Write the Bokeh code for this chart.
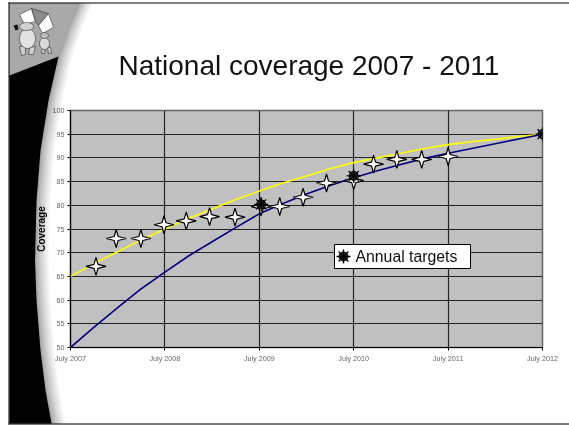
import numpy as np
from bokeh.core.properties import value
from bokeh.embed import file_html
from bokeh.models import FixedTicker, Range1d
from bokeh.plotting import figure
from bokeh.resources import INLINE

# Years since July 2007
curve_years = [0, .25, .5, .75, 1, 1.25, 1.5, 1.75, 2, 2.25, 2.5, 2.75, 3, 3.25, 3.5, 3.75, 4, 4.25, 4.5, 4.75, 5]
yellow_values = [65, 67.7, 70.2, 72.7, 75, 77.2, 79.2, 81.2, 83, 84.7, 86.2, 87.7, 89, 90, 91, 92, 92.8, 93.4, 93.9, 94.5, 95]
blue_values = [50, 54.3, 58.4, 62.4, 65.9, 69.3, 72.3, 75.3, 78.2, 80.4, 82.4, 84.2, 85.8, 87.3, 88.6, 89.9, 91, 92, 93, 94, 95]

survey_years = [.27, .484, .746, .99, 1.226, 1.473, 1.743, 2.019, 2.216, 2.464, 2.712, 3.0, 3.21, 3.457, 3.72, 4.0]
survey_values = [67.1, 73, 73, 75.9, 76.7, 77.6, 77.5, 79.7, 79.75, 81.7, 84.7, 85.2, 88.7, 89.7, 89.7, 90.3]

target_years = [2.02, 3.0, 5.0]
target_values = [80.2, 86.2, 95]

tick_years = [0, 1, 2, 3, 4, 5]
tick_labels = ["July 2007", "July 2008", "July 2009", "July 2010", "July 2011", "July 2012"]
y_ticks = list(range(50, 101, 5))

FONT = "Liberation Sans"
LEFT, RIGHT, TOP, BOTTOM = 70, 542, 110, 347

# Slide backdrop: a full-window figure measured in pixels from the top-left corner
bg = figure(width=569, height=426, output_backend="svg", toolbar_location=None,
            x_range=Range1d(0, 569), y_range=Range1d(426, 0),
            min_border=0, x_axis_type=None, y_axis_type=None,
            background_fill_color="#ffffff", border_fill_color="#ffffff",
            outline_line_color=None)
bg.grid.visible = False

def shape(xs, ys, fill, line=None, width=0):
    bg.patch([float(v) for v in xs], [float(v) for v in ys], fill_color=fill,
             line_color=line, line_width=width)

edge_y = [3, 30, 56, 100, 150, 200, 260, 300, 350, 390, 423]
edge_x = [78, 67, 58, 48, 40, 36, 34.5, 36, 40, 45, 51]

# Soft edge beside the curved sidebar, painted from the outside inward
for off in range(15, -1, -1):
    t = off / 15
    level = int(150 + 105 * t ** 0.7)
    shape([9] + [x + off for x in edge_x] + [9], [3] + edge_y + [423],
          "#%02x%02x%02x" % (level, level, level))

shape([9] + edge_x[:3] + [9], [3] + edge_y[:3] + [75], "#a9a9a9")
shape([9] + edge_x[2:] + [9], [75] + edge_y[2:] + [423], "#000000")
shape([8, 569, 569, 8], [2, 2, 3, 3], "#000000")
shape([8, 569, 569, 8], [423, 423, 424, 424], "#000000")
shape([8, 9, 9, 8], [2, 2, 424, 424], "#000000")

# Mascot holding kites: canopies, then limbs, then bodies and heads
shape([19, 31, 35, 24], [14, 8, 21, 24], "#ffffff", "#333333", 0.6)
shape([31, 48, 38, 35], [8, 13, 25, 21], "#8c8c8c", "#333333", 0.6)
shape([38, 48, 53, 42], [25, 13, 27, 33], "#ffffff", "#333333", 0.6)
shape([19, 25, 25, 21], [46, 46, 54, 55], "#cfcfcf", "#333333", 0.6)
shape([29, 35, 33, 28], [47, 46, 54, 54], "#cfcfcf", "#333333", 0.6)
shape([42, 45, 44, 41], [47, 47, 53, 53], "#cfcfcf", "#333333", 0.6)
shape([47, 50, 51, 48], [47, 47, 53, 53], "#cfcfcf", "#333333", 0.6)
theta = np.linspace(0, 2 * np.pi, 24)
for cx, cy, rx, ry, col in [(27, 38, 8, 10, "#e2e2e2"), (26, 26, 7, 4, "#d2d2d2"),
                            (44, 43, 5, 6, "#d8d8d8"), (44, 35, 4, 3, "#bdbdbd")]:
    shape(cx + rx * np.cos(theta), cy + ry * np.sin(theta), col, "#333333", 0.6)
shape([13, 17, 18, 15], [25, 24, 29, 30], "#111111")

# The chart itself; multiply blending lets the backdrop show through its white canvas
p = figure(width=569, height=426, output_backend="svg", toolbar_location=None,
           x_range=Range1d(0, 5), y_range=Range1d(50, 100),
           min_border_left=LEFT, min_border_right=569 - RIGHT,
           min_border_top=TOP, min_border_bottom=426 - BOTTOM,
           background_fill_color="#c0c0c0", border_fill_color="#ffffff",
           outline_line_color="#666666", outline_line_width=1.5,
           styles={"position": "absolute", "left": "0", "top": "0",
                   "mix-blend-mode": "multiply"})

p.title.text = "National coverage 2007 - 2011"
p.title.text_font = FONT
p.title.text_font_size = "28px"
p.title.text_font_style = "normal"
p.title.text_color = "#111111"
p.title.align = "left"
p.title.offset = 48
p.title.standoff = 59

for grid in (p.xgrid[0], p.ygrid[0]):
    grid.grid_line_color = "#222222"
    grid.grid_line_width = 1.2
p.xgrid[0].ticker = FixedTicker(ticks=tick_years)
p.ygrid[0].ticker = FixedTicker(ticks=y_ticks)

p.xaxis.ticker = FixedTicker(ticks=tick_years)
p.xaxis.major_label_overrides = dict(zip(tick_years, tick_labels))
p.yaxis.ticker = FixedTicker(ticks=y_ticks)
p.yaxis.axis_label = "Coverage"
p.yaxis.axis_label_text_font = FONT
p.yaxis.axis_label_text_font_size = "10px"
p.yaxis.axis_label_text_font_style = "bold"
p.yaxis.axis_label_text_color = "#000000"
p.yaxis.axis_label_standoff = 3
for axis in (p.xaxis[0], p.yaxis[0]):
    axis.axis_line_color = "#000000"
    axis.axis_line_width = 1.2
    axis.major_tick_line_color = "#000000"
    axis.major_tick_out = 3
    axis.major_tick_in = 0
    axis.minor_tick_line_color = None
    axis.major_label_text_font = FONT
    axis.major_label_text_font_size = "7.2px"
    axis.major_label_text_color = "#666666"
    axis.major_label_standoff = 3

# Trend curves
p.line(curve_years, yellow_values, line_color="#ffff00", line_width=1.6)
p.line(curve_years, blue_values, line_color="#000080", line_width=1.6)

# Four-pointed survey markers, sized in pixels around each reading
year_per_px = 5 / (RIGHT - LEFT)
value_per_px = 50 / (BOTTOM - TOP)
star_dx = np.array([-10, -2, 0, 2, 10, 2, 0, -2]) * year_per_px
star_dy = np.array([0, 2, 9, 2, 0, -2, -9, -2]) * value_per_px
p.patches([list(x + star_dx) for x in survey_years],
          [list(y + star_dy) for y in survey_values],
          fill_color="#ffffff", line_color="#000000", line_width=1.2)

# Annual targets: dark disc with eight spikes
def burst(xs, ys):
    p.scatter(xs, ys, marker="circle", size=9, fill_color="#333333", line_color="#000000")
    p.scatter(xs, ys, marker="asterisk", size=14, line_color="#000000", line_width=1.3)

burst(target_years, target_values)

# Key box for the annual targets
def to_year(px):
    return (px - LEFT) * year_per_px

def to_value(py):
    return 50 + (BOTTOM - py) * value_per_px

p.quad(left=[to_year(334)], right=[to_year(470)], top=[to_value(244)], bottom=[to_value(268)],
       fill_color="#ffffff", line_color="#000000", line_width=1)
burst([to_year(343)], [to_value(256)])
p.text([to_year(355)], [to_value(256)], text=["Annual targets"], text_font=value(FONT),
       text_font_size="15.8px", text_color="#111111", text_baseline="middle", text_align="left")

open("out.html", "w").write(file_html([bg, p], INLINE))
